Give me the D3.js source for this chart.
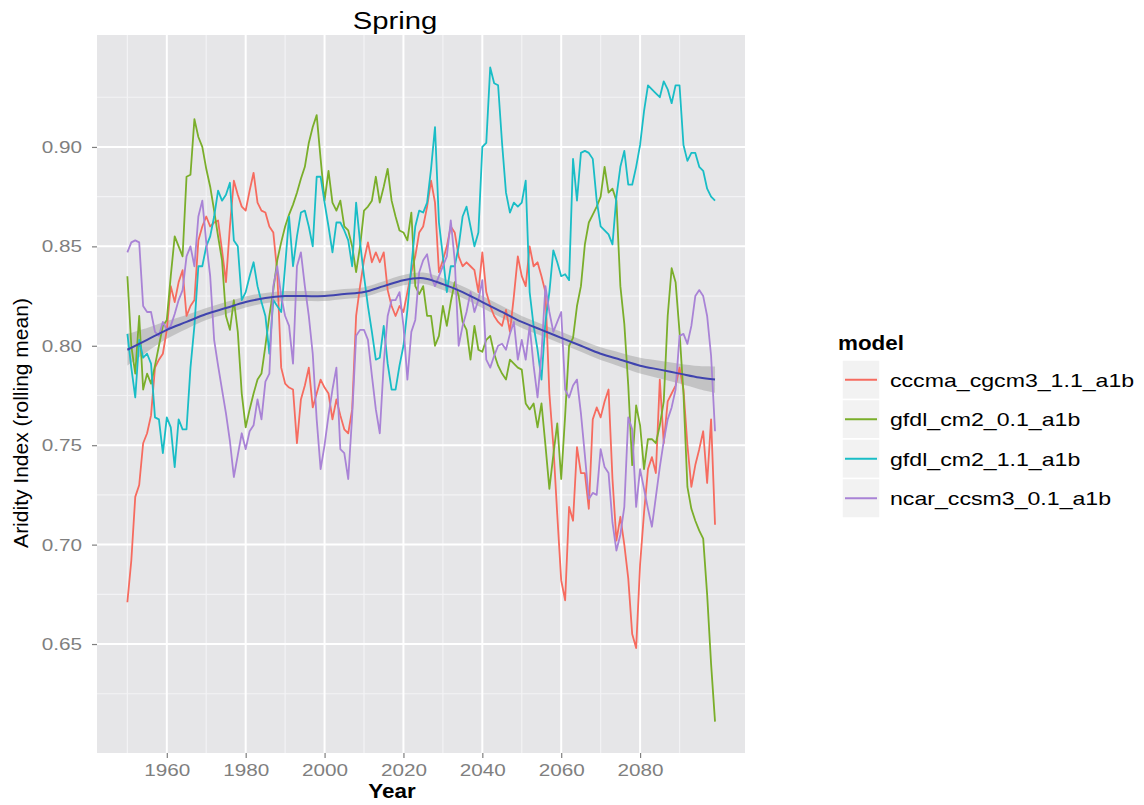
<!DOCTYPE html>
<html>
<head>
<meta charset="utf-8">
<script src="https://cdn.jsdelivr.net/npm/d3@7"></script>
<style>
  body { margin: 0; background: #fff; }
  svg { display: block; font-family: "Liberation Sans", Arial, sans-serif; }
</style>
</head>
<body>
<svg width="1144" height="805"></svg>
<script>
// DATA
const models = ["cccma_cgcm3_1.1_a1b", "gfdl_cm2_0.1_a1b", "gfdl_cm2_1.1_a1b", "ncar_ccsm3_0.1_a1b"];
const colors = ["#F66B5F", "#7AAE2A", "#19BDC6", "#A983D6"];

// one value per year, 1950..2099
const years = d3.range(1950, 2100);

const cccma = [
  .671, .692, .724, .730, .751, .756, .765, .789, .793, .796,
  .808, .830, .822, .832, .838, .815, .820, .823, .853, .860,
  .865, .860, .862, .863, .848, .832, .860, .883, .876, .870,
  .868, .878, .887, .872, .868, .867, .860, .857, .837, .789,
  .781, .779, .778, .751, .773, .780, .789, .769, .776, .783,
  .779, .776, .763, .773, .765, .758, .756, .768, .815, .830,
  .843, .852, .842, .847, .842, .847, .828, .820, .815, .820,
  .817, .827, .837, .845, .857, .860, .870, .883, .872, .837,
  .843, .850, .860, .857, .845, .840, .842, .840, .838, .827,
  .847, .827, .820, .815, .812, .810, .818, .807, .825, .845,
  .835, .830, .850, .840, .842, .835, .827, .776, .750, .715,
  .682, .672, .719, .712, .749, .736, .736, .718, .763, .769,
  .764, .772, .778, .733, .702, .714, .700, .683, .655, .648,
  .690, .716, .738, .744, .736, .783, .751, .772, .776, .780,
  .789, .778, .750, .729, .740, .748, .757, .731, .763, .710
];

const gfdl01 = [
  .835, .800, .786, .815, .778, .786, .781, .790, .800, .810,
  .813, .835, .855, .850, .845, .885, .886, .914, .905, .900,
  .889, .880, .868, .855, .843, .815, .808, .823, .807, .776,
  .759, .768, .776, .783, .786, .800, .815, .828, .843, .852,
  .860, .866, .871, .877, .884, .890, .902, .910, .916, .894,
  .873, .888, .872, .868, .873, .860, .858, .850, .837, .850,
  .868, .870, .873, .885, .872, .880, .889, .873, .865, .858,
  .857, .853, .867, .830, .826, .830, .815, .815, .800, .805,
  .820, .810, .822, .832, .825, .812, .808, .793, .810, .798,
  .797, .803, .805, .796, .790, .786, .783, .793, .791, .789,
  .788, .771, .768, .771, .759, .771, .750, .728, .745, .761,
  .733, .765, .800, .804, .820, .830, .851, .862, .866, .870,
  .875, .890, .877, .879, .873, .830, .811, .780, .740, .770,
  .760, .738, .753, .753, .751, .760, .772, .815, .839, .832,
  .807, .776, .729, .718, .712, .707, .703, .675, .640, .611
];

const gfdl11 = [
  .806, .789, .774, .803, .794, .796, .791, .764, .763, .746,
  .764, .759, .739, .763, .758, .758, .789, .810, .840, .840,
  .850, .855, .865, .878, .873, .876, .882, .853, .850, .823,
  .827, .835, .842, .830, .822, .815, .796, .823, .820, .817,
  .840, .865, .840, .855, .867, .868, .860, .850, .885, .885,
  .872, .860, .847, .862, .862, .858, .853, .840, .872, .852,
  .835, .820, .807, .793, .794, .810, .791, .778, .778, .790,
  .800, .818, .840, .860, .868, .867, .872, .889, .910, .862,
  .845, .827, .840, .840, .850, .865, .870, .860, .850, .857,
  .900, .902, .940, .932, .931, .902, .877, .867, .872, .870,
  .872, .883, .827, .810, .798, .783, .812, .827, .848, .842,
  .835, .836, .833, .894, .873, .897, .898, .897, .894, .873,
  .860, .858, .856, .851, .875, .890, .898, .881, .881, .890,
  .901, .918, .931, .929, .927, .925, .933, .929, .922, .931,
  .931, .901, .893, .897, .897, .890, .888, .879, .875, .873
];

const ncar = [
  .847, .852, .853, .852, .820, .817, .817, .807, .805, .812,
  .808, .810, .816, .823, .828, .845, .850, .840, .865, .873,
  .852, .835, .803, .790, .778, .766, .752, .734, .745, .756,
  .748, .757, .760, .773, .763, .782, .786, .830, .840, .825,
  .815, .810, .791, .840, .847, .830, .815, .796, .763, .738,
  .750, .765, .778, .789, .748, .746, .733, .765, .805, .808,
  .808, .803, .785, .768, .756, .791, .815, .823, .823, .827,
  .810, .783, .807, .813, .837, .843, .846, .835, .830, .835,
  .840, .845, .863, .843, .800, .810, .817, .827, .817, .823,
  .833, .793, .789, .795, .800, .801, .798, .806, .812, .793,
  .803, .793, .810, .790, .774, .796, .830, .817, .807, .812,
  .817, .778, .774, .780, .783, .766, .745, .723, .726, .725,
  .748, .739, .736, .711, .697, .705, .719, .764, .758, .719,
  .738, .728, .718, .709, .724, .739, .752, .763, .769, .778,
  .805, .806, .801, .810, .825, .828, .825, .815, .795, .757
];

// loess smooth over all models, with its standard error band
const smoothYears = [1950, 1955, 1960, 1965, 1970, 1975, 1980, 1985, 1990, 1995,
  2000, 2005, 2010, 2015, 2020, 2025, 2030, 2035, 2040, 2045,
  2050, 2055, 2060, 2065, 2070, 2075, 2080, 2085, 2090, 2095, 2099];
const smoothValues = [.798, .803, .808, .812, .816, .819, .822, .824, .825, .825,
  .825, .826, .827, .830, .833, .834, .831, .827, .822, .817,
  .812, .808, .804, .800, .796, .793, .790, .788, .786, .784, .783];
const smoothSe = [.008, .006, .0045, .0035, .003, .003, .0028, .0026, .0025, .0025,
  .0025, .0025, .0025, .0025, .0026, .0028, .003, .003, .003, .003,
  .003, .003, .003, .003, .0032, .0035, .004, .0045, .005, .0058, .0066];

const yTicks = [0.65, 0.70, 0.75, 0.80, 0.85, 0.90];
const yMinor = [0.625, 0.675, 0.725, 0.775, 0.825, 0.875, 0.925];
const xTicks = [1960, 1980, 2000, 2020, 2040, 2060, 2080];
const xMinor = [1950, 1970, 1990, 2010, 2030, 2050, 2070, 2090];

const seriesValues = [cccma, gfdl01, gfdl11, ncar];

// LAYOUT
const svg = d3.select("svg");
const panel = { left: 97, top: 35, right: 745, bottom: 753 };
const textScale = 1.22;

// SCALE
const xScale = d3.scaleLinear().domain([1942.3, 2106.6]).range([panel.left, panel.right]);
const yScale = d3.scaleLinear().domain([0.5952, 0.9563]).range([panel.bottom, panel.top]);

// PANEL BACKGROUND
svg.append("rect")
    .attr("x", panel.left)
    .attr("y", panel.top)
    .attr("width", panel.right - panel.left)
    .attr("height", panel.bottom - panel.top)
    .attr("fill", "#E6E6E8");

// GRID
const grid = svg.append("g");

grid.selectAll("line.minor-x")
    .data(xMinor)
    .enter().append("line")
    .attr("x1", d => xScale(d)).attr("x2", d => xScale(d))
    .attr("y1", panel.top).attr("y2", panel.bottom)
    .attr("stroke", "#F3F3F5").attr("stroke-width", 1.2);

grid.selectAll("line.minor-y")
    .data(yMinor)
    .enter().append("line")
    .attr("y1", d => yScale(d)).attr("y2", d => yScale(d))
    .attr("x1", panel.left).attr("x2", panel.right)
    .attr("stroke", "#F3F3F5").attr("stroke-width", 1.2);

grid.selectAll("line.major-x")
    .data(xTicks)
    .enter().append("line")
    .attr("x1", d => xScale(d)).attr("x2", d => xScale(d))
    .attr("y1", panel.top).attr("y2", panel.bottom)
    .attr("stroke", "#fff").attr("stroke-width", 2);

grid.selectAll("line.major-y")
    .data(yTicks)
    .enter().append("line")
    .attr("y1", d => yScale(d)).attr("y2", d => yScale(d))
    .attr("x1", panel.left).attr("x2", panel.right)
    .attr("stroke", "#fff").attr("stroke-width", 2);

// SMOOTH RIBBON
const smooth = smoothYears.map((y, i) => ({ year: y, value: smoothValues[i], se: smoothSe[i] }));

svg.append("path")
    .datum(smooth)
    .attr("fill", "#999999")
    .attr("fill-opacity", 0.45)
    .attr("d", d3.area()
        .curve(d3.curveCatmullRom)
        .x(d => xScale(d.year))
        .y0(d => yScale(d.value - d.se))
        .y1(d => yScale(d.value + d.se)));

// LINES
const line = d3.line()
    .x(d => xScale(d.year))
    .y(d => yScale(d.value));

models.forEach((m, k) => {
    const pts = years.map((y, i) => ({ year: y, value: seriesValues[k][i] }));
    svg.append("path")
        .datum(pts)
        .attr("fill", "none")
        .attr("stroke", colors[k])
        .attr("stroke-width", 1.8)
        .attr("stroke-linejoin", "round")
        .attr("d", line);
});

// SMOOTH LINE
svg.append("path")
    .datum(smooth)
    .attr("fill", "none")
    .attr("stroke", "#3F43AE")
    .attr("stroke-width", 2)
    .attr("d", d3.line()
        .curve(d3.curveCatmullRom)
        .x(d => xScale(d.year))
        .y(d => yScale(d.value)));

// AXIS
const yAxis = svg.append("g")
    .attr("transform", `translate(${panel.left},0)`)
    .call(d3.axisLeft(yScale)
        .tickValues(yTicks)
        .tickSize(5)
        .tickPadding(10)
        .tickFormat(d3.format(".2f")));

const xAxis = svg.append("g")
    .attr("transform", `translate(0,${panel.bottom})`)
    .call(d3.axisBottom(xScale)
        .tickValues(xTicks)
        .tickSize(5)
        .tickPadding(6)
        .tickFormat(d3.format("d")));

[yAxis, xAxis].forEach(ax => {
    ax.select(".domain").remove();
    ax.selectAll("line").attr("stroke", "#7F7F7F").attr("stroke-width", 1.2);
    ax.selectAll("text")
        .attr("fill", "#7F7F7F")
        .attr("font-size", "17px")
        .attr("font-family", "Liberation Sans, Arial, sans-serif");
});

yAxis.selectAll("text")
    .attr("x", -15 / textScale)
    .attr("transform", `scale(${textScale},1)`);

xAxis.selectAll("text")
    .attr("transform", `scale(${textScale},1)`);

// TITLE
svg.append("text")
    .attr("transform", `translate(395,29) scale(1.22,1)`)
    .attr("text-anchor", "middle")
    .attr("font-size", "24px")
    .attr("fill", "#000")
    .text("Spring");

// AXIS TITLES
svg.append("text")
    .attr("transform", `translate(392,798) scale(1.12,1)`)
    .attr("text-anchor", "middle")
    .attr("font-size", "20px")
    .attr("font-weight", "bold")
    .attr("fill", "#000")
    .text("Year");

svg.append("text")
    .attr("transform", `translate(28,423) rotate(-90)`)
    .attr("text-anchor", "middle")
    .attr("font-size", "21px")
    .attr("fill", "#000")
    .text("Aridity Index (rolling mean)");

// LEGEND
const legend = svg.append("g");

legend.append("text")
    .attr("transform", `translate(838,350) scale(1.12,1)`)
    .attr("font-size", "20px")
    .attr("font-weight", "bold")
    .attr("fill", "#000")
    .text("model");

const rowH = 39.5;
const rows = legend.selectAll("g.row")
    .data(models)
    .enter().append("g")
    .attr("transform", (d, i) => `translate(842,${360 + i * rowH})`);

rows.append("rect")
    .attr("width", 38)
    .attr("height", rowH)
    .attr("fill", "#F2F2F2")
    .attr("stroke", "#fff")
    .attr("stroke-width", 1.5);

rows.append("line")
    .attr("x1", 3).attr("x2", 35)
    .attr("y1", rowH / 2).attr("y2", rowH / 2)
    .attr("stroke", (d, i) => colors[i])
    .attr("stroke-width", 2);

rows.append("text")
    .attr("transform", `translate(48,${rowH / 2 + 7}) scale(1.25,1)`)
    .attr("font-size", "18.5px")
    .attr("fill", "#000")
    .text(d => d);
</script>
</body>
</html>
